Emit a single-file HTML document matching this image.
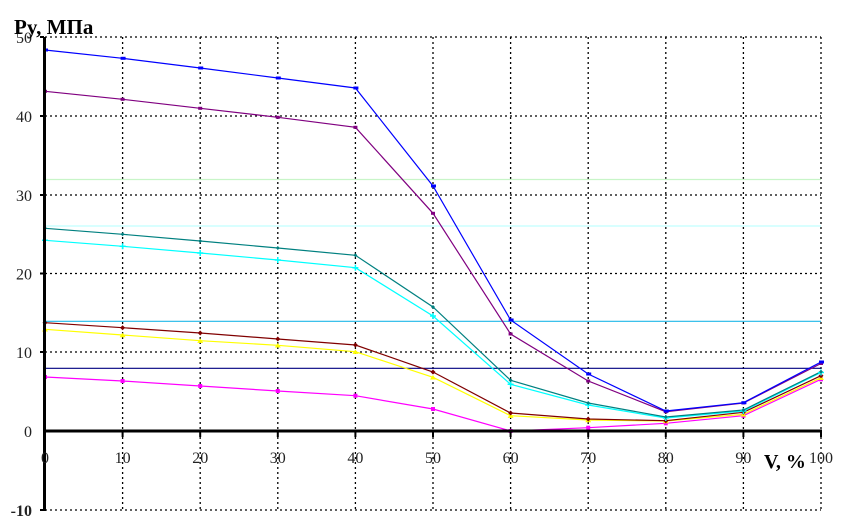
<!DOCTYPE html>
<html>
<head>
<meta charset="utf-8">
<style>
html,body{margin:0;padding:0;background:#fff;}
svg{display:block;}
text{font-family:"Liberation Serif","DejaVu Serif",serif;}
</style>
</head>
<body>
<svg width="842" height="531" xmlns="http://www.w3.org/2000/svg">
<rect width="842" height="531" fill="#fff"/>
<!-- dotted grid -->
<g stroke="#000" stroke-width="1.3" stroke-dasharray="2,3" fill="none">
<line x1="45" y1="37" x2="821" y2="37"/>
<line x1="45" y1="116" x2="821" y2="116"/>
<line x1="45" y1="195" x2="821" y2="195"/>
<line x1="45" y1="273.5" x2="821" y2="273.5"/>
<line x1="45" y1="352" x2="821" y2="352"/>
<line x1="45" y1="510" x2="821" y2="510"/>
<line x1="122.6" y1="37" x2="122.6" y2="510"/>
<line x1="200.2" y1="37" x2="200.2" y2="510"/>
<line x1="277.8" y1="37" x2="277.8" y2="510"/>
<line x1="355.4" y1="37" x2="355.4" y2="510"/>
<line x1="433" y1="37" x2="433" y2="510"/>
<line x1="510.6" y1="37" x2="510.6" y2="510"/>
<line x1="588.2" y1="37" x2="588.2" y2="510"/>
<line x1="665.8" y1="37" x2="665.8" y2="510"/>
<line x1="743.4" y1="37" x2="743.4" y2="510"/>
<line x1="821" y1="37" x2="821" y2="510"/>
</g>
<!-- reference lines -->
<g stroke-width="1.2" fill="none">
<line x1="45" y1="179.5" x2="821" y2="179.5" stroke="#C8F5C8"/>
<line x1="45" y1="226" x2="821" y2="226" stroke="#C0FFFF"/>
<line x1="45" y1="321.3" x2="821" y2="321.3" stroke="#20B8E8"/>
<line x1="45" y1="368.3" x2="821" y2="368.3" stroke="#000080"/>
</g>
<!-- series -->
<g fill="none" stroke-width="1.2">
<polyline stroke="#FF00FF" points="45,377 122.6,381 200.2,386 277.8,391 355.4,395.7 433,409 510.6,431 588.2,427.7 665.8,423.3 743.4,415.7 821,379.3"/>
<polyline stroke="#FFFF00" points="45,329.3 122.6,335 200.2,340.7 277.8,345.3 355.4,351.7 433,377.3 510.6,415.7 588.2,420 665.8,421 743.4,414.3 821,377.7"/>
<polyline stroke="#800000" points="45,322.7 122.6,327.7 200.2,333 277.8,339 355.4,345 433,372 510.6,413 588.2,419 665.8,420.7 743.4,412.3 821,375.7"/>
<polyline stroke="#00FFFF" points="45,240.3 122.6,246.3 200.2,253 277.8,260 355.4,267.7 433,316 510.6,384.3 588.2,405 665.8,418 743.4,411 821,372.5"/>
<polyline stroke="#008080" points="45,228.3 122.6,234.3 200.2,241 277.8,248 355.4,255.3 433,307 510.6,380.3 588.2,403 665.8,417 743.4,410 821,371.7"/>
<polyline stroke="#800080" points="45,91.3 122.6,99.3 200.2,108.3 277.8,117.3 355.4,127.3 433,213.3 510.6,334 588.2,381 665.8,411.7 743.4,403 821,363.5"/>
<polyline stroke="#0000FF" points="45,50 122.6,58.3 200.2,68 277.8,78 355.4,88 433,186 510.6,320 588.2,374 665.8,411 743.4,402.7 821,362"/>
</g>
<!-- markers -->
<g fill="#FF00FF">
<rect x="43" y="375" width="4" height="4"/><rect x="120.6" y="379" width="4" height="4"/><rect x="198.2" y="384" width="4" height="4"/><rect x="275.8" y="389" width="4" height="4"/><rect x="353.4" y="393.7" width="4" height="4"/><rect x="431" y="407" width="4" height="4"/><rect x="508.6" y="429" width="4" height="4"/><rect x="586.2" y="425.7" width="4" height="4"/><rect x="663.8" y="421.3" width="4" height="4"/><rect x="741.4" y="413.7" width="4" height="4"/><rect x="819" y="377.3" width="4" height="4"/>
</g>
<g fill="#FFFF00">
<path d="M45,327 l3,4.5 h-6z M122.6,332.7 l3,4.5 h-6z M200.2,338.4 l3,4.5 h-6z M277.8,343 l3,4.5 h-6z M355.4,349.4 l3,4.5 h-6z M433,375 l3,4.5 h-6z M510.6,413.4 l3,4.5 h-6z M588.2,417.7 l3,4.5 h-6z M665.8,418.7 l3,4.5 h-6z M743.4,412 l3,4.5 h-6z M821,375.4 l3,4.5 h-6z"/>
</g>
<g fill="#800000">
<path d="M45,320.2 l2.5,2.5 -2.5,2.5 -2.5,-2.5z M122.6,325.2 l2.5,2.5 -2.5,2.5 -2.5,-2.5z M200.2,330.5 l2.5,2.5 -2.5,2.5 -2.5,-2.5z M277.8,336.5 l2.5,2.5 -2.5,2.5 -2.5,-2.5z M355.4,342.5 l2.5,2.5 -2.5,2.5 -2.5,-2.5z M433,369.5 l2.5,2.5 -2.5,2.5 -2.5,-2.5z M510.6,410.5 l2.5,2.5 -2.5,2.5 -2.5,-2.5z M588.2,416.5 l2.5,2.5 -2.5,2.5 -2.5,-2.5z M665.8,418.2 l2.5,2.5 -2.5,2.5 -2.5,-2.5z M743.4,409.8 l2.5,2.5 -2.5,2.5 -2.5,-2.5z M821,373.2 l2.5,2.5 -2.5,2.5 -2.5,-2.5z"/>
</g>
<g stroke="#00FFFF" stroke-width="1.5">
<path d="M42,240.3h6M45,237.3v6 M119.6,246.3h6M122.6,243.3v6 M197.2,253h6M200.2,250v6 M274.8,260h6M277.8,257v6 M352.4,267.7h6M355.4,264.7v6 M430,316h6M433,313v6 M507.6,384.3h6M510.6,381.3v6 M585.2,405h6M588.2,402v6 M662.8,418h6M665.8,415v6 M740.4,411h6M743.4,408v6 M818,372.5h6M821,369.5v6"/>
</g>
<g fill="#008080">
<path d="M45,226.3 l2,2 -2,2 -2,-2z M122.6,232.3 l2,2 -2,2 -2,-2z M200.2,239 l2,2 -2,2 -2,-2z M277.8,246 l2,2 -2,2 -2,-2z M355.4,253.3 l2,2 -2,2 -2,-2z M433,305 l2,2 -2,2 -2,-2z M510.6,378.3 l2,2 -2,2 -2,-2z M588.2,401 l2,2 -2,2 -2,-2z M665.8,415 l2,2 -2,2 -2,-2z M743.4,408 l2,2 -2,2 -2,-2z M821,369.7 l2,2 -2,2 -2,-2z"/>
</g>
<g fill="#800080">
<rect x="43" y="89.8" width="4" height="3"/><rect x="120.6" y="97.8" width="4" height="3"/><rect x="198.2" y="106.8" width="4" height="3"/><rect x="275.8" y="115.8" width="4" height="3"/><rect x="353.4" y="125.8" width="4" height="3"/><rect x="431" y="211.8" width="4" height="3"/><rect x="508.6" y="332.5" width="4" height="3"/><rect x="586.2" y="379.5" width="4" height="3"/><rect x="663.8" y="410.2" width="4" height="3"/><rect x="741.4" y="401.5" width="4" height="3"/><rect x="819" y="362" width="4" height="3"/>
</g>
<g fill="#0000FF">
<rect x="43" y="48.5" width="5" height="3"/><rect x="120.6" y="56.8" width="5" height="3"/><rect x="198.2" y="66.5" width="5" height="3"/><rect x="275.8" y="76.5" width="5" height="3"/><rect x="353.4" y="86.5" width="5" height="3"/><rect x="431" y="184.5" width="5" height="3"/><rect x="508.6" y="318.5" width="5" height="3"/><rect x="586.2" y="372.5" width="5" height="3"/><rect x="663.8" y="409.5" width="5" height="3"/><rect x="741.4" y="401.2" width="5" height="3"/><rect x="819" y="360.5" width="5" height="3"/>
</g>
<!-- axes -->
<rect x="43" y="37" width="3" height="474" fill="#000"/>
<rect x="43" y="429.5" width="779" height="3" fill="#000"/>
<g fill="#000">
<rect x="40" y="36" width="4" height="2"/>
<rect x="40" y="115" width="4" height="2"/>
<rect x="40" y="194" width="4" height="2"/>
<rect x="40" y="272.5" width="4" height="2"/>
<rect x="40" y="351" width="4" height="2"/>
<rect x="40" y="509" width="4" height="2"/>
<rect x="121.6" y="431" width="2" height="6"/>
<rect x="199.2" y="431" width="2" height="6"/>
<rect x="276.8" y="431" width="2" height="6"/>
<rect x="354.4" y="431" width="2" height="6"/>
<rect x="432" y="431" width="2" height="6"/>
<rect x="509.6" y="431" width="2" height="6"/>
<rect x="587.2" y="431" width="2" height="6"/>
<rect x="664.8" y="431" width="2" height="6"/>
<rect x="742.4" y="431" width="2" height="6"/>
<rect x="820" y="431" width="2" height="6"/>
</g>
<!-- tick labels -->
<g font-size="16" fill="#222" text-anchor="end">
<text x="32" y="43">50</text>
<text x="32" y="122">40</text>
<text x="32" y="201">30</text>
<text x="32" y="279.5">20</text>
<text x="32" y="358">10</text>
<text x="32" y="437">0</text>
<text x="32" y="516" font-weight="bold">-10</text>
</g>
<g font-size="16" fill="#222" text-anchor="middle">
<text x="45" y="463">0</text>
<text x="122.6" y="463">10</text>
<text x="200.2" y="463">20</text>
<text x="277.8" y="463">30</text>
<text x="355.4" y="463">40</text>
<text x="433" y="463">50</text>
<text x="510.6" y="463">60</text>
<text x="588.2" y="463">70</text>
<text x="665.8" y="463">80</text>
<text x="743.4" y="463">90</text>
<text x="821" y="463">100</text>
</g>
<text x="14" y="34" font-size="21" font-weight="bold" fill="#000">Py, МПа</text>
<text x="764" y="468" font-size="20" font-weight="bold" fill="#000">V, %</text>
</svg>
</body>
</html>
